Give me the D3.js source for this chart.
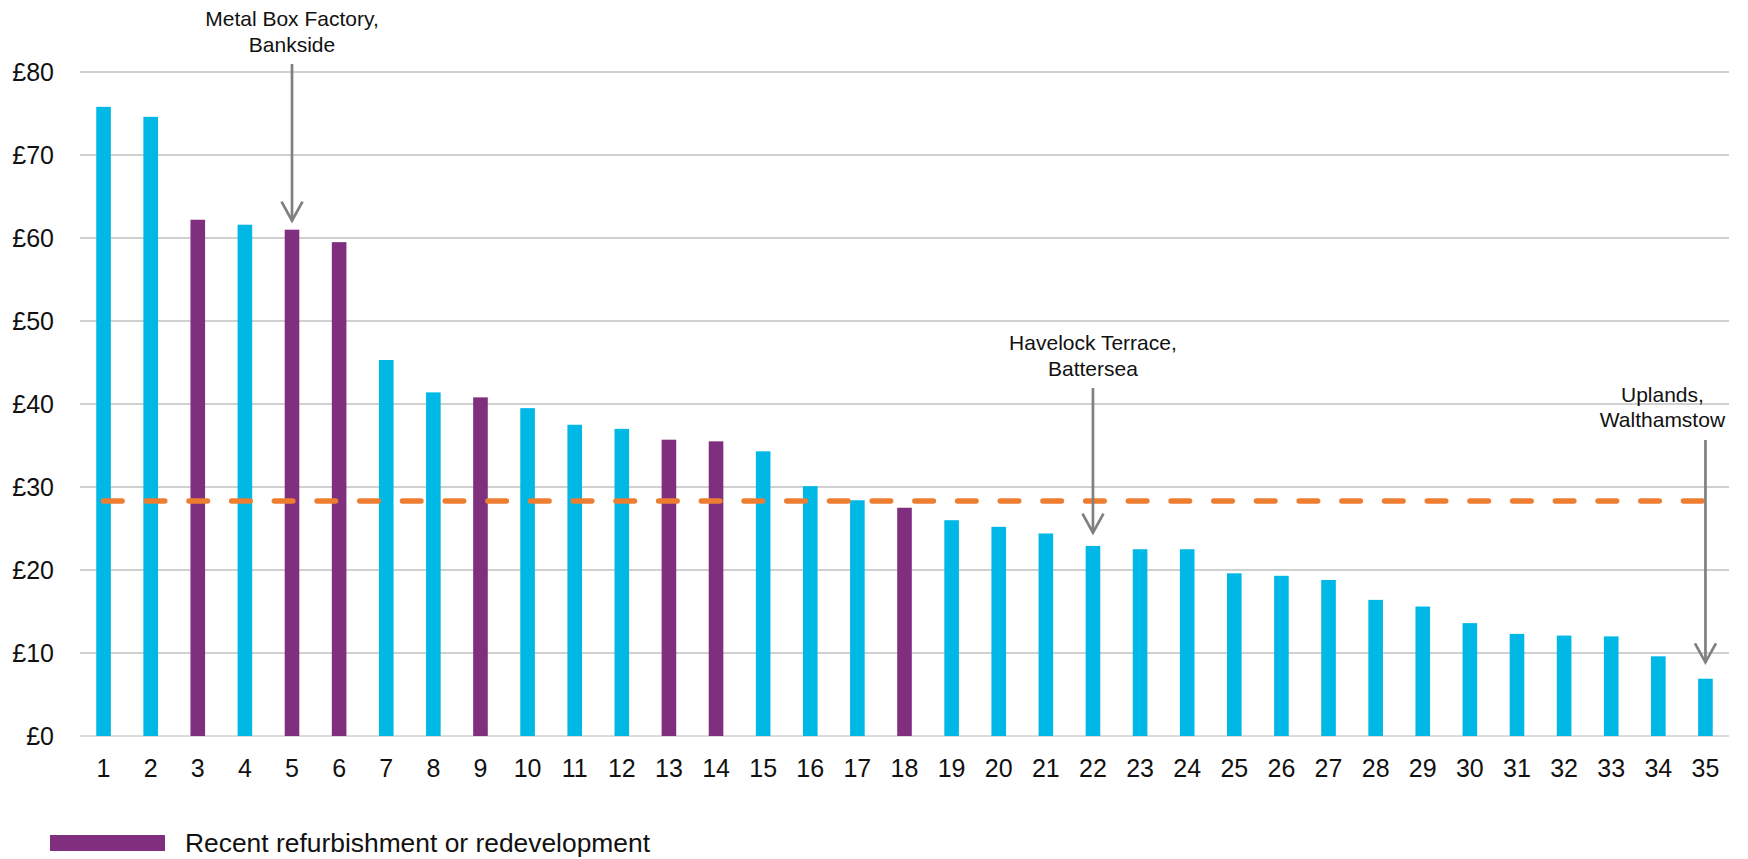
<!DOCTYPE html>
<html>
<head>
<meta charset="utf-8">
<script src="https://cdn.jsdelivr.net/npm/d3@7/dist/d3.min.js"></script>
<style>
  html, body { margin: 0; padding: 0; background: #ffffff; }
  svg { display: block; font-family: "Liberation Sans", Arial, sans-serif; }
</style>
</head>
<body>
<svg id="chart" width="1748" height="859"></svg>
<script>
// Rent per sq ft by scheme, ranked from highest to lowest
const schemes = d3.range(1, 36);
const rents = [75.8, 74.6, 62.2, 61.6, 61.0, 59.5, 45.3, 41.4, 40.8, 39.5,
               37.5, 37.0, 35.7, 35.5, 34.3, 30.1, 28.4, 27.5, 26.0, 25.2,
               24.4, 22.9, 22.5, 22.5, 19.6, 19.3, 18.8, 16.4, 15.6, 13.6,
               12.3, 12.1, 12.0, 9.6, 6.9];
// Schemes with a recent refurbishment or redevelopment
const refurbished = [3, 5, 6, 9, 13, 14, 18];
// Average rent across all schemes
const averageRent = 28.3;
const yTicks = [0, 10, 20, 30, 40, 50, 60, 70, 80];
const legendLabel = "Recent refurbishment or redevelopment";

// Called-out schemes
const callouts = [
  { scheme: 5,  lines: ["Metal Box Factory,", "Bankside"],   textY: 26,    dx: 0,   fromY: 64,  toY: 220.7 },
  { scheme: 22, lines: ["Havelock Terrace,", "Battersea"],   textY: 350,   dx: 0,   fromY: 388, toY: 532.7 },
  { scheme: 35, lines: ["Uplands,", "Walthamstow"],          textY: 401.7, dx: -43, fromY: 440, toY: 662.3 }
];

const colors = { standard: "#00B8E5", refurb: "#7F2F7E", average: "#ED7D31", grid: "#C0C0C0", arrow: "#808080", text: "#111111" };

const svg = d3.select("#chart");
const plot = { left: 80, right: 1729, top: 72, bottom: 736 };

const x = d3.scaleBand()
  .domain(schemes)
  .range([plot.left, plot.right])
  .paddingInner(0.69)
  .paddingOuter(0.345);

const y = d3.scaleLinear()
  .domain([0, 80])
  .range([plot.bottom, plot.top]);

// Horizontal gridlines
svg.append("g")
  .selectAll("line")
  .data(yTicks)
  .join("line")
  .attr("x1", plot.left)
  .attr("x2", plot.right)
  .attr("y1", d => y(d))
  .attr("y2", d => y(d))
  .attr("stroke", d => d === 0 ? "#D0D0D0" : colors.grid)
  .attr("stroke-width", 1.3);

// Y axis labels
svg.append("g")
  .selectAll("text")
  .data(yTicks)
  .join("text")
  .attr("x", 54)
  .attr("y", d => y(d))
  .attr("dy", "0.36em")
  .attr("text-anchor", "end")
  .attr("font-size", 25)
  .attr("fill", colors.text)
  .text(d => "£" + d);

// X axis labels
svg.append("g")
  .selectAll("text")
  .data(schemes)
  .join("text")
  .attr("x", d => x(d) + x.bandwidth() / 2)
  .attr("y", 777)
  .attr("text-anchor", "middle")
  .attr("font-size", 25)
  .attr("fill", colors.text)
  .text(d => d);

// Bars
svg.append("g")
  .selectAll("rect")
  .data(schemes)
  .join("rect")
  .attr("x", d => x(d))
  .attr("width", x.bandwidth())
  .attr("y", (d, i) => y(rents[i]))
  .attr("height", (d, i) => y(0) - y(rents[i]))
  .attr("fill", d => refurbished.includes(d) ? colors.refurb : colors.standard);

// Average line
const mid = d => x(d) + x.bandwidth() / 2;
svg.append("line")
  .attr("x1", mid(schemes[0]))
  .attr("x2", mid(schemes[schemes.length - 1]))
  .attr("y1", y(averageRent))
  .attr("y2", y(averageRent))
  .attr("stroke", colors.average)
  .attr("stroke-width", 5.5)
  .attr("stroke-linecap", "round")
  .attr("stroke-dasharray", "18.5 24.2");

// Callouts with arrows
const co = svg.append("g");
callouts.forEach(c => {
  const cx = mid(c.scheme);
  const t = co.append("text")
    .attr("text-anchor", "middle")
    .attr("font-size", 21)
    .attr("fill", colors.text);
  c.lines.forEach((ln, i) => {
    t.append("tspan")
      .attr("x", cx + c.dx)
      .attr("y", c.textY + i * 25.5)
      .text(ln);
  });
  co.append("line")
    .attr("x1", cx).attr("x2", cx)
    .attr("y1", c.fromY).attr("y2", c.toY)
    .attr("stroke", colors.arrow)
    .attr("stroke-width", 2.7);
  co.append("path")
    .attr("d", d3.line()([[cx - 10.5, c.toY - 19], [cx, c.toY], [cx + 10.5, c.toY - 19]]))
    .attr("fill", "none")
    .attr("stroke", colors.arrow)
    .attr("stroke-width", 2.7);
});

// Legend
const lg = svg.append("g");
lg.append("rect")
  .attr("x", 50).attr("y", 835)
  .attr("width", 115).attr("height", 16)
  .attr("fill", colors.refurb);
lg.append("text")
  .attr("x", 185)
  .attr("y", 852)
  .attr("font-size", 26.4)
  .attr("fill", colors.text)
  .text(legendLabel);
</script>
</body>
</html>
